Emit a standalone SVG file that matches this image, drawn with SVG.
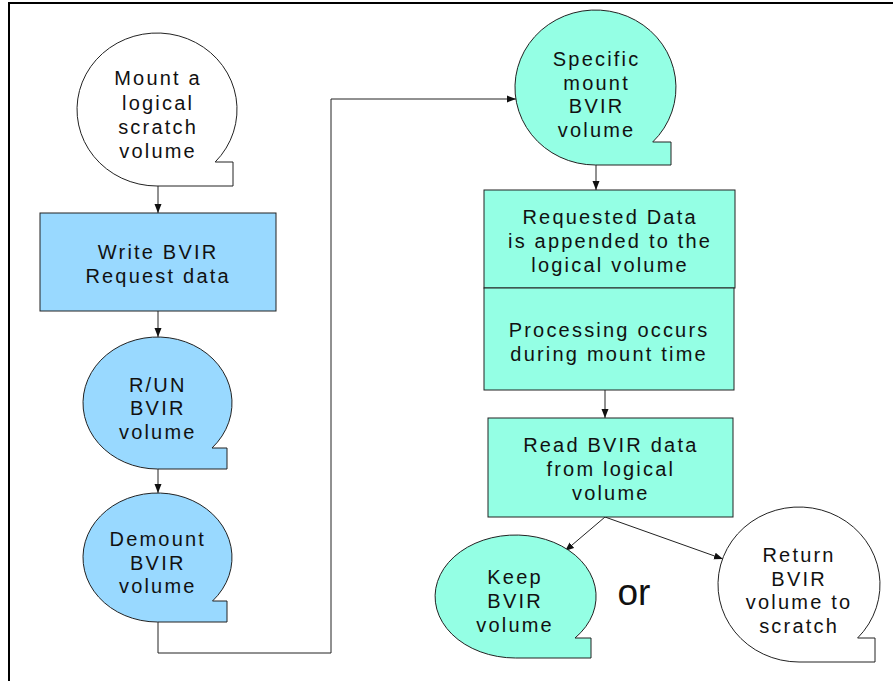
<svg xmlns="http://www.w3.org/2000/svg" width="893" height="681" viewBox="0 0 893 681">
<style>
.frame{fill:none;stroke:#000;stroke-width:2}
.blue{fill:#99d9ff;stroke:#222;stroke-width:1}
.teal{fill:#94ffe4;stroke:#222;stroke-width:1}
.white{fill:#fff;stroke:#222;stroke-width:1}
.conn{fill:none;stroke:#222;stroke-width:1}
text{font-family:"Liberation Sans",Arial,sans-serif;font-size:20px;letter-spacing:2.2px;fill:#111;text-anchor:middle}
.or{font-size:37px;letter-spacing:0}
</style>
<defs>
<marker id="arr" markerUnits="userSpaceOnUse" markerWidth="10" markerHeight="8" refX="9" refY="4" orient="auto">
<path d="M0,0.5 L9,4 L0,7.5 Z" fill="#111"/>
</marker>
</defs>
<rect width="893" height="681" fill="#fff"/>
<path class="frame" d="M9,681 L9,3 L893,3"/>

<g id="connectors">
<line class="conn" x1="158" y1="186" x2="158" y2="213" marker-end="url(#arr)"/>
<line class="conn" x1="158" y1="311" x2="158" y2="337" marker-end="url(#arr)"/>
<line class="conn" x1="158" y1="469" x2="158" y2="493" marker-end="url(#arr)"/>
<polyline class="conn" points="158,622 158,653 331,653 331,99 516,99" marker-end="url(#arr)"/>
<line class="conn" x1="596" y1="165" x2="596" y2="190" marker-end="url(#arr)"/>
<line class="conn" x1="605" y1="390" x2="605" y2="418" marker-end="url(#arr)"/>
<line class="conn" x1="605" y1="517" x2="565" y2="551" marker-end="url(#arr)"/>
<line class="conn" x1="605" y1="517" x2="723" y2="559" marker-end="url(#arr)"/>
</g>

<g id="mount">
<path class="white" d="M157,186 A80,76.5 0 1 1 215.2,162 L233,162 L233,186 Z"/>
<text x="158.1" y="85">Mount a</text>
<text x="158.1" y="110">logical</text>
<text x="158.1" y="134">scratch</text>
<text x="158.1" y="158">volume</text>
</g>

<g id="write">
<rect class="blue" x="40" y="213" width="236" height="98"/>
<text x="158.1" y="259">Write BVIR</text>
<text x="158.1" y="283">Request data</text>
</g>

<g id="run">
<path class="blue" d="M157.5,469 A74.5,66 0 1 1 212,448 L227,448 L227,469 Z"/>
<text x="157.8" y="392">R/UN</text>
<text x="157.8" y="415">BVIR</text>
<text x="157.8" y="439">volume</text>
</g>

<g id="demount">
<path class="blue" d="M157.5,622 A74.5,64.5 0 1 1 212.5,601 L227,601 L227,622 Z"/>
<text x="157.8" y="546">Demount</text>
<text x="157.8" y="570">BVIR</text>
<text x="157.8" y="593">volume</text>
</g>

<g id="specific">
<path class="teal" d="M595.5,165 A80.5,77.5 0 1 1 652.7,142 L671,142 L671,165 Z"/>
<text x="596.6" y="66">Specific</text>
<text x="596.6" y="90">mount</text>
<text x="596.6" y="113">BVIR</text>
<text x="596.6" y="137">volume</text>
</g>

<g id="requested">
<rect class="teal" x="484" y="190" width="251" height="98"/>
<text x="610.1" y="224">Requested Data</text>
<text x="610.1" y="248">is appended to the</text>
<text x="610.1" y="272">logical volume</text>
</g>

<g id="processing">
<rect class="teal" x="484" y="288" width="250" height="102"/>
<text x="609.1" y="337">Processing occurs</text>
<text x="609.1" y="361">during mount time</text>
</g>

<g id="read">
<rect class="teal" x="488" y="418" width="245" height="99"/>
<text x="610.8" y="452">Read BVIR data</text>
<text x="610.8" y="476">from logical</text>
<text x="610.8" y="500">volume</text>
</g>

<g id="keep">
<path class="teal" d="M515.5,658 A80.5,61.5 0 1 1 575,638 L591,638 L591,658 Z"/>
<text x="515.1" y="584">Keep</text>
<text x="515.1" y="608">BVIR</text>
<text x="515.1" y="632">volume</text>
</g>

<g id="return">
<path class="white" d="M799,662 A81,77.5 0 1 1 857.6,638 L875,638 L875,662 Z"/>
<text x="799.1" y="562">Return</text>
<text x="799.1" y="586">BVIR</text>
<text x="799.1" y="609">volume to</text>
<text x="799.1" y="633">scratch</text>
</g>

<g id="or">
<text class="or" x="634" y="605">or</text>
</g>
</svg>
